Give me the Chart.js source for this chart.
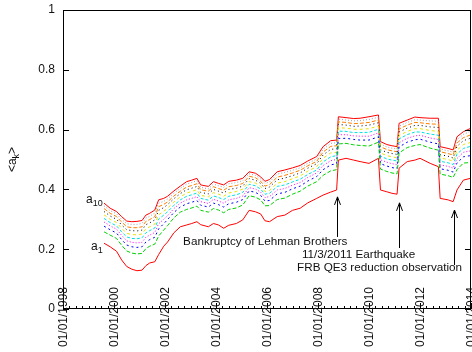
<!DOCTYPE html>
<html><head><meta charset="utf-8">
<script src="https://cdn.jsdelivr.net/npm/chart.js@4/dist/chart.umd.min.js"></script>
<style>html,body{margin:0;padding:0;background:#fff}canvas{display:block}</style>
</head><body>
<canvas id="c" width="472" height="352"></canvas>
<script>
// decimal-year sample dates
const dates = [1999.61,1999.85,2000.1,2000.3,2000.5,2000.7,2000.9,2001.1,2001.25,2001.4,2001.6,2001.75,2001.95,2002.1,2002.35,2002.6,2002.85,2003.05,2003.25,2003.4,2003.7,2003.9,2004.1,2004.3,2004.5,2004.8,2005.05,2005.3,2005.55,2005.75,2005.92,2006.1,2006.4,2006.7,2007.0,2007.3,2007.6,2007.95,2008.2,2008.5,2008.73,2008.8,2009.1,2009.4,2009.65,2010.0,2010.37,2010.45,2010.7,2010.9,2011.1,2011.18,2011.5,2011.8,2012.0,2012.4,2012.72,2012.79,2013.1,2013.3,2013.45,2013.7,2013.98];

const a1 = [.220,.208,.193,.164,.142,.133,.128,.130,.145,.154,.158,.182,.210,.224,.255,.275,.281,.286,.292,.282,.275,.286,.281,.270,.280,.286,.298,.330,.325,.318,.295,.292,.309,.314,.330,.337,.355,.370,.381,.391,.398,.498,.504,.498,.493,.487,.504,.398,.392,.387,.384,.471,.493,.498,.504,.487,.476,.370,.365,.359,.398,.431,.437];
const a2 = [.258,.247,.236,.213,.194,.187,.184,.186,.202,.210,.217,.244,.264,.279,.305,.324,.333,.338,.344,.330,.324,.336,.331,.322,.333,.338,.348,.379,.374,.365,.345,.346,.366,.371,.384,.394,.411,.426,.447,.462,.466,.552,.554,.549,.547,.545,.558,.468,.460,.455,.452,.522,.540,.547,.550,.538,.531,.451,.446,.440,.466,.488,.490];
const a3 = [.277,.265,.254,.232,.214,.208,.206,.208,.224,.232,.240,.268,.285,.299,.323,.341,.352,.357,.363,.347,.341,.354,.349,.341,.352,.357,.366,.395,.390,.380,.361,.363,.385,.390,.402,.411,.428,.443,.466,.482,.486,.570,.571,.567,.565,.565,.576,.486,.478,.473,.470,.542,.558,.566,.568,.558,.552,.469,.464,.458,.488,.509,.513];
const a4 = [.291,.278,.267,.246,.228,.223,.221,.223,.240,.247,.256,.285,.300,.312,.336,.354,.365,.370,.376,.359,.353,.367,.361,.354,.365,.370,.378,.406,.401,.391,.373,.376,.398,.403,.414,.423,.440,.455,.480,.496,.500,.583,.583,.579,.578,.578,.589,.499,.491,.486,.483,.556,.571,.579,.581,.572,.567,.482,.477,.471,.503,.524,.529];
const a5 = [.303,.289,.278,.258,.241,.236,.235,.238,.255,.262,.271,.301,.314,.325,.347,.365,.377,.382,.388,.370,.364,.378,.373,.366,.377,.382,.390,.417,.412,.401,.384,.387,.410,.415,.425,.434,.450,.465,.492,.509,.513,.595,.594,.590,.590,.591,.601,.511,.502,.498,.495,.569,.583,.592,.592,.585,.581,.494,.489,.483,.518,.537,.544];
const a6 = [.315,.300,.289,.270,.253,.249,.248,.251,.268,.275,.284,.315,.327,.337,.358,.375,.388,.393,.399,.380,.375,.389,.384,.377,.388,.393,.401,.426,.421,.410,.393,.397,.421,.426,.436,.445,.461,.476,.504,.522,.524,.606,.605,.601,.601,.603,.612,.522,.513,.509,.506,.580,.594,.603,.603,.597,.594,.505,.500,.494,.531,.550,.557];
const a7 = [.326,.311,.300,.281,.265,.262,.261,.264,.282,.288,.298,.330,.339,.349,.369,.386,.399,.404,.410,.390,.385,.400,.394,.388,.400,.404,.411,.436,.431,.420,.403,.408,.432,.438,.446,.455,.471,.486,.515,.534,.536,.617,.615,.611,.612,.615,.623,.533,.524,.520,.517,.592,.605,.614,.614,.609,.607,.516,.511,.505,.544,.563,.571];
const a8 = [.336,.320,.309,.291,.275,.272,.272,.275,.293,.299,.309,.342,.350,.358,.378,.394,.408,.413,.419,.399,.394,.409,.403,.397,.409,.413,.420,.444,.439,.427,.411,.416,.441,.447,.455,.464,.479,.494,.525,.544,.546,.626,.624,.620,.621,.624,.632,.543,.533,.529,.526,.602,.615,.624,.623,.619,.618,.526,.520,.515,.555,.573,.582];
const a9 = [.345,.329,.318,.300,.285,.283,.283,.286,.304,.310,.321,.354,.360,.368,.387,.403,.418,.423,.429,.407,.402,.418,.412,.407,.419,.423,.429,.452,.447,.435,.420,.425,.451,.457,.464,.472,.487,.502,.534,.554,.556,.635,.632,.629,.630,.634,.641,.552,.542,.538,.535,.612,.624,.633,.632,.629,.628,.535,.529,.524,.566,.584,.594];
const a10 = [.354,.337,.326,.309,.294,.292,.293,.296,.314,.320,.331,.365,.370,.377,.395,.411,.426,.431,.437,.415,.410,.426,.420,.415,.427,.431,.437,.459,.454,.442,.427,.433,.459,.465,.472,.480,.495,.510,.543,.563,.565,.643,.640,.637,.638,.643,.649,.560,.550,.546,.543,.621,.632,.642,.640,.638,.638,.543,.537,.532,.576,.593,.604];

const seriesNames = ['a1','a2','a3','a4','a5','a6','a7','a8','a9','a10'];
const seriesValues = [a1,a2,a3,a4,a5,a6,a7,a8,a9,a10];
const seriesColors = ['#ff0000','#00d000','#0000ff','#ff00ff','#00e0e0','#e8e000','#000000','#ff8000','#a0a0a0','#ff0000'];
const seriesDashes = [[],[4,2],[2,3],[1,2],[3,2],[3,3],[1,3],[4,2],[1,2],[]];

const yTicks = [0,0.2,0.4,0.6,0.8,1];
const yTickLabels = ['0','0.2','0.4','0.6','0.8','1'];
const xTickYears = [1998,2000,2002,2004,2006,2008,2010,2012,2014];
const xTickLabels = ['01/01/1998','01/01/2000','01/01/2002','01/01/2004','01/01/2006','01/01/2008','01/01/2010','01/01/2012','01/01/2014'];

const FONT = '"Liberation Sans", Arial, sans-serif';

const datasets = seriesValues.map((vals, i) => ({
  label: seriesNames[i],
  data: dates.map((d, j) => ({x: d, y: vals[j]})),
  borderColor: seriesColors[i],
  borderDash: seriesDashes[i],
  borderWidth: 1,
  pointRadius: 0,
  tension: 0,
  fill: false
}));

const deco = {
  id: 'deco',
  afterDraw(chart) {
    const ctx = chart.ctx, a = chart.chartArea;
    const xs = chart.scales.x, ys = chart.scales.y;
    const X = v => xs.getPixelForValue(v), Y = v => ys.getPixelForValue(v);
    ctx.save();
    ctx.strokeStyle = '#000'; ctx.fillStyle = '#111'; ctx.lineWidth = 1; ctx.setLineDash([]);
    // border
    ctx.strokeRect(a.left + 0.5, a.top + 0.5, a.right - a.left - 1, a.bottom - a.top - 1);
    // y ticks
    ctx.beginPath();
    yTicks.forEach(v => {
      const y = Math.round(Y(v)) + 0.5;
      ctx.moveTo(a.left, y); ctx.lineTo(a.left + 6, y);
      ctx.moveTo(a.right, y); ctx.lineTo(a.right - 6, y);
    });
    // x major + minor ticks
    for (let q = 1998; q <= 2014.001; q += 0.25) {
      const x = Math.round(X(q)) + 0.5;
      const major = Math.abs((q - 1998) / 2 - Math.round((q - 1998) / 2)) < 1e-6;
      ctx.moveTo(x, a.bottom); ctx.lineTo(x, a.bottom - (major ? 6 : 3));
    }
    ctx.stroke();
    // y labels
    ctx.font = '12px ' + FONT;
    ctx.textAlign = 'right'; ctx.textBaseline = 'middle';
    yTicks.forEach((v, i) => ctx.fillText(yTickLabels[i], a.left - 8, Y(v)));
    // x labels rotated
    xTickYears.forEach((yr, i) => {
      ctx.save();
      ctx.translate(X(yr) + 0.5, a.bottom + 8);
      ctx.rotate(-Math.PI / 2);
      ctx.textAlign = 'center'; ctx.textBaseline = 'middle';
      ctx.fillText(xTickLabels[i], 0, 0);
      ctx.restore();
    });
    // y title <a_k>
    ctx.save();
    ctx.translate(16, (a.top + a.bottom) / 2);
    ctx.rotate(-Math.PI / 2);
    ctx.textBaseline = 'alphabetic'; ctx.textAlign = 'left';
    ctx.font = '12px ' + FONT;
    const w1 = ctx.measureText('<a').width;
    ctx.font = '9px ' + FONT;
    const w2 = ctx.measureText('k').width;
    ctx.font = '12px ' + FONT;
    const w3 = ctx.measureText('>').width;
    let sx = -(w1 + w2 + w3) / 2;
    ctx.fillText('<a', sx, 0);
    ctx.font = '9px ' + FONT;
    ctx.fillText('k', sx + w1, 3);
    ctx.font = '12px ' + FONT;
    ctx.fillText('>', sx + w1 + w2, 0);
    ctx.restore();
    // series labels a10 and a1
    const sub = (base, s, x, y) => {
      ctx.textAlign = 'left'; ctx.textBaseline = 'alphabetic';
      ctx.font = '12px ' + FONT; ctx.fillText(base, x, y);
      const w = ctx.measureText(base).width;
      ctx.font = '9px ' + FONT; ctx.fillText(s, x + w, y + 3);
    };
    sub('a', '10', 86, 203);
    sub('a', '1', 91, 250);
    // annotations
    ctx.font = '11.7px ' + FONT; ctx.textAlign = 'left'; ctx.textBaseline = 'middle';
    ctx.fillText('Bankruptcy of Lehman Brothers', X(2002.71), Y(0.224));
    ctx.fillText('11/3/2011 Earthquake', X(2007.37), Y(0.181));
    ctx.fillText('FRB QE3 reduction observation', X(2007.18), Y(0.137));
    const arrow = (yr, v0, v1) => {
      const x = Math.round(X(yr)) + 0.5, y0 = Y(v0), y1 = Y(v1);
      ctx.beginPath();
      ctx.moveTo(x, y0); ctx.lineTo(x, y1);
      ctx.moveTo(x - 3, y1 + 8); ctx.lineTo(x, y1); ctx.lineTo(x + 3, y1 + 8);
      ctx.stroke();
    };
    arrow(2008.73, 0.241, 0.375);
    arrow(2011.18, 0.204, 0.355);
    arrow(2013.35, 0.147, 0.331);
    ctx.restore();
  }
};

new Chart(document.getElementById('c'), {
  type: 'line',
  data: { datasets },
  options: {
    responsive: false,
    animation: false,
    devicePixelRatio: 1,
    layout: { padding: { left: 63, right: 1, top: 10, bottom: 43 } },
    scales: {
      x: { type: 'linear', min: 1998, max: 2014, display: false },
      y: { min: 0, max: 1, display: false }
    },
    plugins: { legend: { display: false }, tooltip: { enabled: false } }
  },
  plugins: [deco]
});
</script>
</body></html>
